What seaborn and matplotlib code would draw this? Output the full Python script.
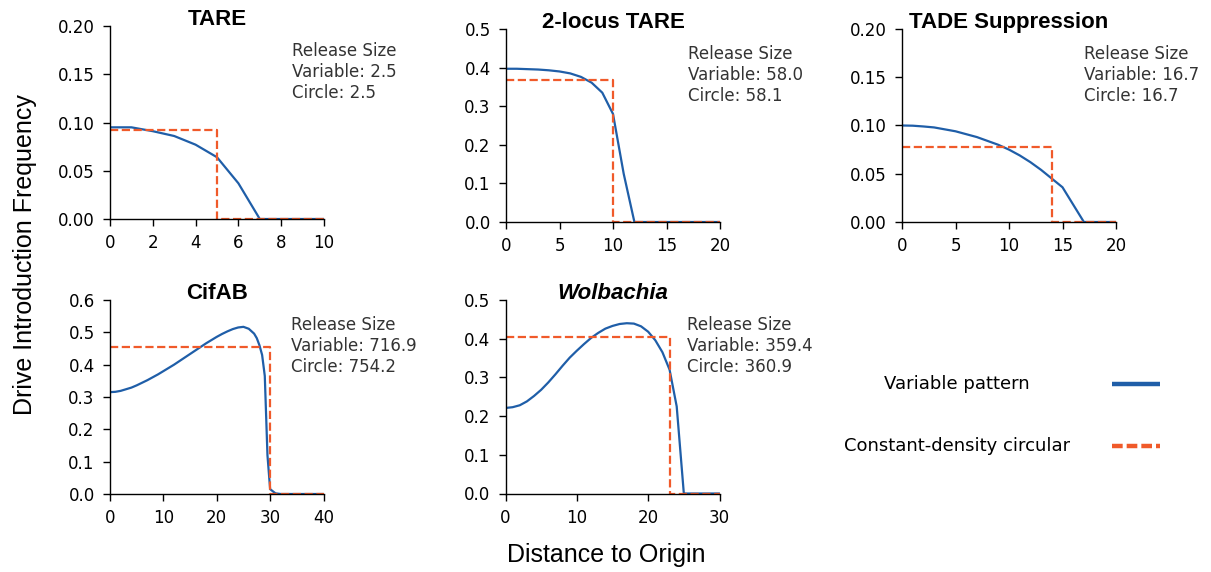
import matplotlib
matplotlib.use("Agg")
import matplotlib.pyplot as plt
import seaborn as sns
import pandas as pd
from matplotlib.lines import Line2D
from matplotlib.ticker import FormatStrFormatter, MultipleLocator

sns.set_style("ticks")
plt.rcParams['font.family'] = ['DejaVu Sans']
plt.rcParams['text.color'] = 'black'
plt.rcParams['axes.labelcolor'] = 'black'

BLUE = '#1f5ea8'
RED = '#f05a2a'

# ---------------- data ----------------
titles = ["TARE", "2-locus TARE", "TADE Suppression", "CifAB", "Wolbachia"]
x_max = [10, 20, 20, 40, 30]
y_max = [0.20, 0.5, 0.20, 0.6, 0.5]
x_step = [2, 5, 5, 10, 10]
y_step = [0.05, 0.1, 0.05, 0.1, 0.1]
y_fmt = ['%.2f', '%.1f', '%.2f', '%.1f', '%.1f']
release_variable = ["2.5", "58.0", "16.7", "716.9", "359.4"]
release_circle = ["2.5", "58.1", "16.7", "754.2", "360.9"]

# constant-density circular release: radius and frequency
circle_radius = [5, 10, 14, 30, 23]
circle_freq = [0.092, 0.368, 0.078, 0.455, 0.405]

# variable pattern curves
tare_x = [0, 1, 2, 3, 4, 5, 6, 7, 8, 9, 10]
tare_y = [0.095, 0.095, 0.091, 0.086, 0.077, 0.064, 0.037, 0.0, 0.0, 0.0, 0.0]

tare2_x = [0, 1, 2, 3, 4, 5, 6, 7, 8, 9, 10, 11, 12, 13, 20]
tare2_y = [0.397, 0.397, 0.396, 0.395, 0.393, 0.390, 0.385, 0.376, 0.361,
           0.335, 0.280, 0.125, 0.0, 0.0, 0.0]

tade_x = [0, 1, 2, 3, 4, 5, 6, 7, 8, 9, 10, 11, 12, 13, 14, 15, 16, 17, 18, 20]
tade_y = [0.100, 0.0998, 0.099, 0.098, 0.096, 0.094, 0.091, 0.088, 0.084,
          0.080, 0.075, 0.069, 0.062, 0.054, 0.045, 0.036, 0.018, 0.0, 0.0, 0.0]

cif_x = [0, 1, 2, 3, 4, 5, 6, 7, 8, 9, 10, 11, 12, 13, 14, 15, 16, 17, 18, 19,
         20, 21, 22, 23, 24, 25, 26, 27, 27.5, 28, 28.5, 29, 29.5, 30, 31, 32, 40]
cif_y = [0.315, 0.316, 0.319, 0.324, 0.329, 0.336, 0.344, 0.352, 0.361, 0.370,
         0.380, 0.390, 0.400, 0.411, 0.422, 0.433, 0.444, 0.455, 0.466, 0.476,
         0.486, 0.495, 0.503, 0.510, 0.515, 0.517, 0.511, 0.496, 0.482, 0.460,
         0.430, 0.365, 0.120, 0.015, 0.002, 0.0, 0.0]

wol_x = [0, 1, 2, 3, 4, 5, 6, 7, 8, 9, 10, 11, 12, 13, 14, 15, 16, 17, 18, 19,
         20, 21, 22, 23, 24, 25, 26, 30]
wol_y = [0.221, 0.223, 0.228, 0.238, 0.252, 0.268, 0.287, 0.308, 0.330, 0.351,
         0.369, 0.386, 0.402, 0.415, 0.426, 0.433, 0.438, 0.440, 0.439, 0.432,
         0.418, 0.396, 0.365, 0.320, 0.225, 0.0, 0.0, 0.0]

curves_x = [tare_x, tare2_x, tade_x, cif_x, wol_x]
curves_y = [tare_y, tare2_y, tade_y, cif_y, wol_y]

legend_labels = ["Variable pattern", "Constant-density circular"]

# ---------------- figure ----------------
W, H = 1211, 572
fig = plt.figure(figsize=(W / 100, H / 100), dpi=100)

# axes boxes in pixels: left, top, right, bottom
boxes = [(110, 26, 324, 219), (506, 29, 720, 222), (902, 29, 1116, 222),
         (110, 300, 323.5, 494), (505.5, 300, 719.5, 493.5)]

for i in range(5):
    l, t, r, b = boxes[i]
    ax = fig.add_axes([l / W, (H - b) / H, (r - l) / W, (b - t) / H])
    df = pd.DataFrame({"distance": curves_x[i], "frequency": curves_y[i]})
    sns.lineplot(data=df, x="distance", y="frequency", ax=ax, color=BLUE,
                 linewidth=1.6, sort=False, estimator=None)
    circ = pd.DataFrame({
        "distance": [0, circle_radius[i], circle_radius[i], x_max[i]],
        "frequency": [circle_freq[i], circle_freq[i], 0.0, 0.0]})
    sns.lineplot(data=circ, x="distance", y="frequency", ax=ax, color=RED,
                 linewidth=1.6, linestyle='--', sort=False, estimator=None)
    ax.set_xlim(0, x_max[i])
    ax.set_ylim(0, y_max[i])
    ax.xaxis.set_major_locator(MultipleLocator(x_step[i]))
    ax.yaxis.set_major_locator(MultipleLocator(y_step[i]))
    ax.yaxis.set_major_formatter(FormatStrFormatter(y_fmt[i]))
    ax.set_xlabel("")
    ax.set_ylabel("")
    ax.tick_params(axis='both', labelsize=12, length=5, width=1, pad=6,
                   colors='black')
    for s in ['left', 'bottom']:
        ax.spines[s].set_linewidth(1)
        ax.spines[s].set_color('black')
    sns.despine(ax=ax)
    ax.set_title(titles[i], fontsize=16, fontweight='bold', color='black',
                 family=['Liberation Sans', 'DejaVu Sans'], pad=0.5, y=1.0,
                 style='italic' if titles[i] == 'Wolbachia' else 'normal')
    ax.text(0.85, 0.762,
            f"Release Size\nVariable: {release_variable[i]}\nCircle: {release_circle[i]}",
            transform=ax.transAxes, ha='left', va='center', fontsize=12,
            color='#333333', linespacing=1.2)

# shared axis labels
fig.text(25 / W, (H - 255) / H, "Drive Introduction Frequency", rotation=90,
         ha='center', va='center', fontsize=18, color='black',
         family=['Liberation Sans', 'DejaVu Sans'])
fig.text(606 / W, (H - 555) / H, "Distance to Origin", ha='center',
         va='center', fontsize=18, color='black',
         family=['Liberation Sans', 'DejaVu Sans'])

# legend in the empty panel position
leg_y = [384, 446]
styles = [dict(color=BLUE, linewidth=3.2, linestyle='-'),
          dict(color=RED, linewidth=3.2, linestyle=(0, (2.4, 0.9)))]
for lab, yy, st in zip(legend_labels, leg_y, styles):
    fig.text(957 / W, (H - yy) / H, lab, ha='center', va='center', fontsize=13,
             color='black')
    fig.add_artist(Line2D([1112 / W, 1160 / W], [(H - yy) / H, (H - yy) / H],
                          transform=fig.transFigure, solid_capstyle='butt',
                          dash_capstyle='butt', **st))

fig.savefig("out.png", dpi=100)
